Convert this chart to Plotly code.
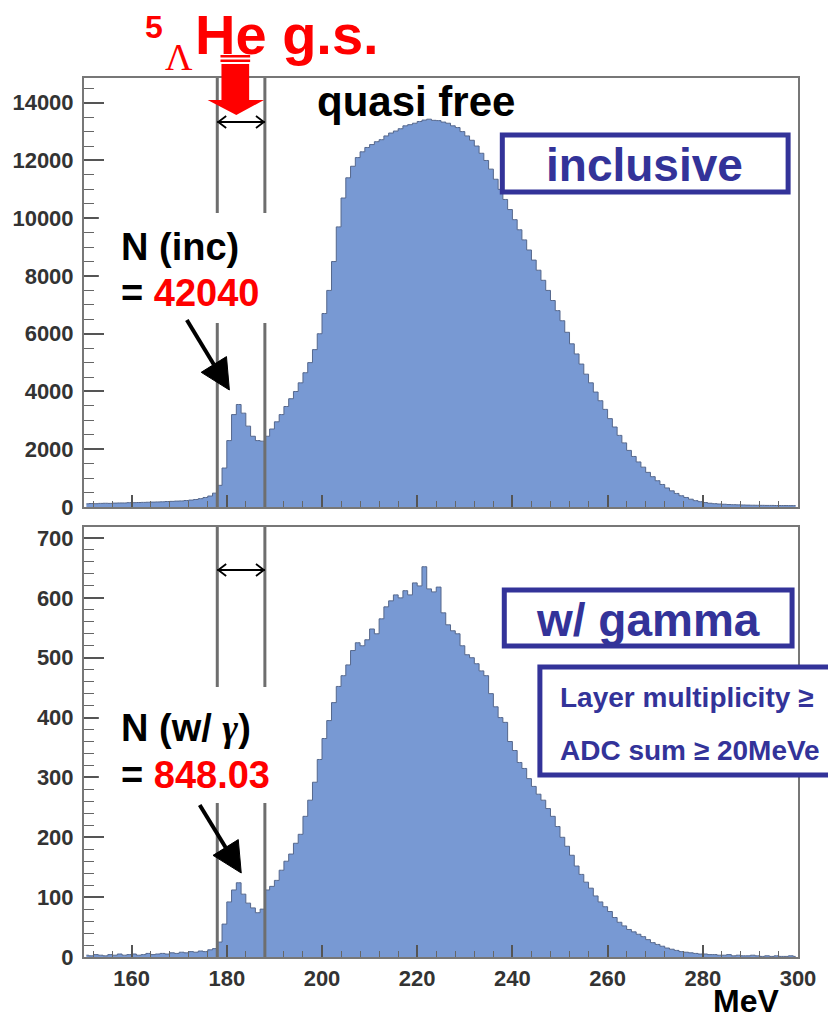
import plotly.graph_objects as go

# ---------------- data (1 MeV bins, 150-300 MeV) ----------------
energy_mev = [150.5 + k for k in range(150)]

inclusive_counts = [
    110, 120, 115, 125, 130, 125, 135, 140, 140, 150,      # 150-159
    150, 155, 160, 165, 170, 175, 180, 190, 195, 205,      # 160-169
    210, 225, 240, 260, 290, 330, 380, 480, 750, 1350,     # 170-179
    2300, 3200, 3550, 3250, 2800, 2450, 2300, 2280, 2450, 2700,   # 180-189
    2950, 3200, 3480, 3750, 4000, 4300, 4650, 5000, 5450, 6000,   # 190-199
    6700, 7500, 8500, 9700, 10700, 11400, 11800, 12100, 12300, 12450,  # 200-209
    12550, 12650, 12720, 12850, 12950, 13020, 13100, 13200, 13240, 13290,  # 210-219
    13350, 13400, 13430, 13390, 13380, 13330, 13290, 13200, 13140, 13000,  # 220-229
    12850, 12700, 12500, 12250, 12000, 11700, 11350, 11000, 10650, 10300,  # 230-239
    9950, 9600, 9250, 8900, 8550, 8200, 7850, 7500, 7150, 6800,   # 240-249
    6450, 6050, 5650, 5300, 4950, 4600, 4300, 3980, 3680, 3380,   # 250-259
    3060, 2770, 2480, 2220, 1960, 1750, 1560, 1380, 1200, 1050,   # 260-269
    910, 780, 660, 560, 470, 390, 330, 270, 220, 185,     # 270-279
    155, 130, 115, 105, 95, 85, 80, 75, 70, 65,           # 280-289
    62, 60, 58, 55, 55, 52, 50, 50, 48, 48,               # 290-299
]

gamma_counts = [
    3, 2, 4, 3, 2, 4, 3, 5, 3, 4,                  # 150-159
    5, 3, 4, 6, 4, 5, 6, 5, 7, 6,                  # 160-169
    8, 7, 9, 8, 10, 9, 12, 14, 25, 55,             # 170-179
    92, 112, 124, 105, 90, 82, 74, 80, 112, 118,   # 180-189
    128, 145, 160, 172, 190, 205, 235, 262, 292, 330,   # 190-199
    365, 395, 425, 452, 470, 488, 512, 525, 520, 530,   # 200-209
    548, 540, 565, 585, 595, 605, 600, 612, 605, 625,   # 210-219
    620, 652, 615, 610, 618, 575, 555, 545, 540, 520,   # 220-229
    505, 500, 490, 478, 470, 440, 418, 400, 392, 360,   # 230-239
    345, 325, 315, 298, 285, 272, 262, 248, 235, 218,   # 240-249
    200, 185, 170, 152, 138, 125, 115, 102, 92, 84,     # 250-259
    76, 66, 58, 52, 46, 42, 38, 34, 29, 24,             # 260-269
    21, 18, 15, 13, 11, 9, 8, 7, 6, 5,                  # 270-279
    5, 4, 4, 3, 3, 4, 2, 3, 2, 2,                       # 280-289
    3, 2, 1, 2, 1, 2, 1, 1, 2, 1,                       # 290-299
]

gs_window_mev = [178, 188]
x_range = [150, 300]
top_y_range = [0, 14856]
bottom_y_range = [0, 718.4]

# ---------------- geometry helpers (pixels -> paper) ----------------
W, H = 828, 1018
L, R, T, B = 83, 805, 78, 957


def px(x):
    return (x - L) / (R - L)


def py(y):
    return (B - y) / (B - T)


def dx(v):
    return (v - x_range[0]) / (x_range[1] - x_range[0])


TOP_BOTTOM_PX = 507
BOT_TOP_PX = 527

fill_col = "#7899d3"
edge_col = "#55678c"
blue_txt = "#333399"
red = "#ff0000"
font_family = "Liberation Sans, Arial, sans-serif"
serif = "Liberation Serif, Times New Roman, serif"

fig = go.Figure()
fig.add_trace(go.Scatter(
    x=energy_mev, y=inclusive_counts, xaxis="x", yaxis="y",
    mode="lines", line=dict(shape="hvh", color=edge_col, width=1),
    fill="tozeroy", fillcolor=fill_col, hoverinfo="skip", showlegend=False))
fig.add_trace(go.Scatter(
    x=energy_mev, y=gamma_counts, xaxis="x2", yaxis="y2",
    mode="lines", line=dict(shape="hvh", color=edge_col, width=1),
    fill="tozeroy", fillcolor=fill_col, hoverinfo="skip", showlegend=False))

tickfont = dict(family=font_family, size=22, color="#333333", weight="bold")
common = dict(showline=True, linecolor="#777777", linewidth=2, mirror=True,
              ticks="inside", tickcolor="#555555", tickwidth=1.5,
              showgrid=False, zeroline=False, tickfont=tickfont)

xa = dict(range=x_range, tickmode="linear", tick0=160, dtick=20, ticklen=12,
          minor=dict(ticks="inside", dtick=4, tick0=160, ticklen=6,
                     tickcolor="#666666", tickwidth=1),
          **common)

fig.update_layout(
    width=W, height=H,
    margin=dict(l=L, r=W - R, t=T, b=H - B),
    paper_bgcolor="white", plot_bgcolor="white",
    xaxis=dict(domain=[0, 1], anchor="y", showticklabels=False, **xa),
    yaxis=dict(domain=[py(TOP_BOTTOM_PX), 1], anchor="x", range=top_y_range,
               tickmode="linear", tick0=0, dtick=2000, tickformat="d",
               ticklen=20, ticklabelstandoff=4,
               minor=dict(ticks="inside", dtick=500, ticklen=10,
                          tickcolor="#666666", tickwidth=1),
               **common),
    xaxis2=dict(domain=[0, 1], anchor="y2", showticklabels=True,
                ticklabelstandoff=1, **xa),
    yaxis2=dict(domain=[0, py(BOT_TOP_PX)], anchor="x2", range=bottom_y_range,
                tickmode="linear", tick0=0, dtick=100, tickformat="d",
                ticklen=20, ticklabelstandoff=4,
                minor=dict(ticks="inside", dtick=20, ticklen=10,
                           tickcolor="#666666", tickwidth=1),
                **common),
)

shapes = []
# vertical g.s. window lines
for v in gs_window_mev:
    shapes.append(dict(type="line", xref="x", yref="paper", x0=v, x1=v,
                       y0=py(TOP_BOTTOM_PX), y1=1, layer="above",
                       line=dict(color="#6e6e6e", width=3)))
    shapes.append(dict(type="line", xref="x2", yref="paper", x0=v, x1=v,
                       y0=0, y1=py(BOT_TOP_PX), layer="above",
                       line=dict(color="#6e6e6e", width=3)))


def path(pts, close=True):
    s = "M " + " L ".join(f"{px(a):.5f},{py(b):.5f}" for a, b in pts)
    return s + (" Z" if close else "")


# double-headed arrows between the lines
for yy in (122, 570):
    xl = L + dx(gs_window_mev[0]) * (R - L)
    xr = L + dx(gs_window_mev[1]) * (R - L)
    shapes.append(dict(type="path", xref="paper", yref="paper", layer="above",
                       path=path([(xl, yy), (xr, yy)], close=False),
                       line=dict(color="black", width=1.8)))
    shapes.append(dict(type="path", xref="paper", yref="paper", layer="above",
                       path=path([(xl + 9, yy - 6), (xl + 1, yy), (xl + 9, yy + 6)], close=False),
                       line=dict(color="black", width=1.8)))
    shapes.append(dict(type="path", xref="paper", yref="paper", layer="above",
                       path=path([(xr - 9, yy - 6), (xr - 1, yy), (xr - 9, yy + 6)], close=False),
                       line=dict(color="black", width=1.8)))

# white label backgrounds
shapes.append(dict(type="rect", xref="paper", yref="paper", layer="above",
                   x0=px(98), x1=px(284), y0=py(323), y1=py(213),
                   fillcolor="white", line=dict(width=0)))
shapes.append(dict(type="rect", xref="paper", yref="paper", layer="above",
                   x0=px(98), x1=px(282), y0=py(803), y1=py(687),
                   fillcolor="white", line=dict(width=0)))

# black pointer arrows
for (x0, y0, xt, yt) in ((187, 320, 230, 390), (200, 805, 242, 873)):
    vx, vy = xt - x0, yt - y0
    n = (vx ** 2 + vy ** 2) ** 0.5
    ux, uy = vx / n, vy / n
    bx, by = xt - 30 * ux, yt - 30 * uy
    shapes.append(dict(type="path", xref="paper", yref="paper", layer="above",
                       path=path([(x0, y0), (bx, by)], close=False),
                       line=dict(color="black", width=4)))
    shapes.append(dict(type="path", xref="paper", yref="paper", layer="above",
                       path=path([(bx - 15 * uy, by + 15 * ux), (xt, yt),
                                  (bx + 15 * uy, by - 15 * ux)]),
                       fillcolor="black", line=dict(color="black", width=1)))

# blue boxes
shapes.append(dict(type="rect", xref="paper", yref="paper", layer="above",
                   x0=px(506), x1=px(795), y0=py(192), y1=py(135),
                   fillcolor="white", line=dict(color=blue_txt, width=5)))
shapes.append(dict(type="rect", xref="paper", yref="paper", layer="above",
                   x0=px(508), x1=px(799), y0=py(646), y1=py(590),
                   fillcolor="white", line=dict(color=blue_txt, width=5)))
shapes.append(dict(type="rect", xref="paper", yref="paper", layer="above",
                   x0=px(544), x1=px(860), y0=py(775), y1=py(667),
                   fillcolor="white", line=dict(color=blue_txt, width=5)))

# red g.s. arrow
shapes.append(dict(type="path", xref="paper", yref="paper", layer="above",
                   path=path([(222, 64), (250, 64), (250, 100), (265, 100),
                              (237, 115), (208, 100), (222, 100)]),
                   fillcolor=red, line=dict(width=0)))
for (ya, yb) in ((55, 57.5), (59.5, 62)):
    shapes.append(dict(type="rect", xref="paper", yref="paper", layer="above",
                       x0=px(221), x1=px(251), y0=py(yb), y1=py(ya),
                       fillcolor=red, line=dict(width=0)))

fig.update_layout(shapes=shapes)


def ann(text, x, y, size, color, xanchor="center", family=font_family):
    return dict(text=text, x=px(x), y=py(y), xref="paper", yref="paper",
                showarrow=False, xanchor=xanchor, yanchor="middle",
                font=dict(size=size, color=color, family=family))


annotations = [
    ann("<b>5</b>", 154, 27, 32, red),
    ann("Λ", 179, 57, 38, red, family=serif),
    ann("<b>He g.s.</b>", 193, 34, 56, red, xanchor="left"),
    ann("<b>quasi free</b>", 419, 101, 42, "black"),
    ann("<b>inclusive</b>", 650, 165, 46, blue_txt),
    ann("<b>w/ gamma</b>", 653, 620, 46, blue_txt),
    ann("<b>Layer multiplicity ≥</b>", 562, 697, 28, blue_txt, xanchor="left"),
    ann("<b>ADC sum ≥ 20MeVe</b>", 562, 750, 28, blue_txt, xanchor="left"),
    ann("<b>N (inc)</b>", 118, 247, 38, "black", xanchor="left"),
    ann("<b>= <span style='color:#ff0000'>42040</span></b>", 118, 293, 38, "black", xanchor="left"),
    ann("<b>N (w/ <span style='font-family:Liberation Serif, serif;font-style:italic'>γ</span>)</b>",
        118, 728, 38, "black", xanchor="left"),
    ann("<b>= <span style='color:#ff0000'>848.03</span></b>", 118, 775, 38, "black", xanchor="left"),
    ann("<b>MeV</b>", 752, 1001, 32, "black"),
]
fig.update_layout(annotations=annotations)

fig.write_html("out.html")
